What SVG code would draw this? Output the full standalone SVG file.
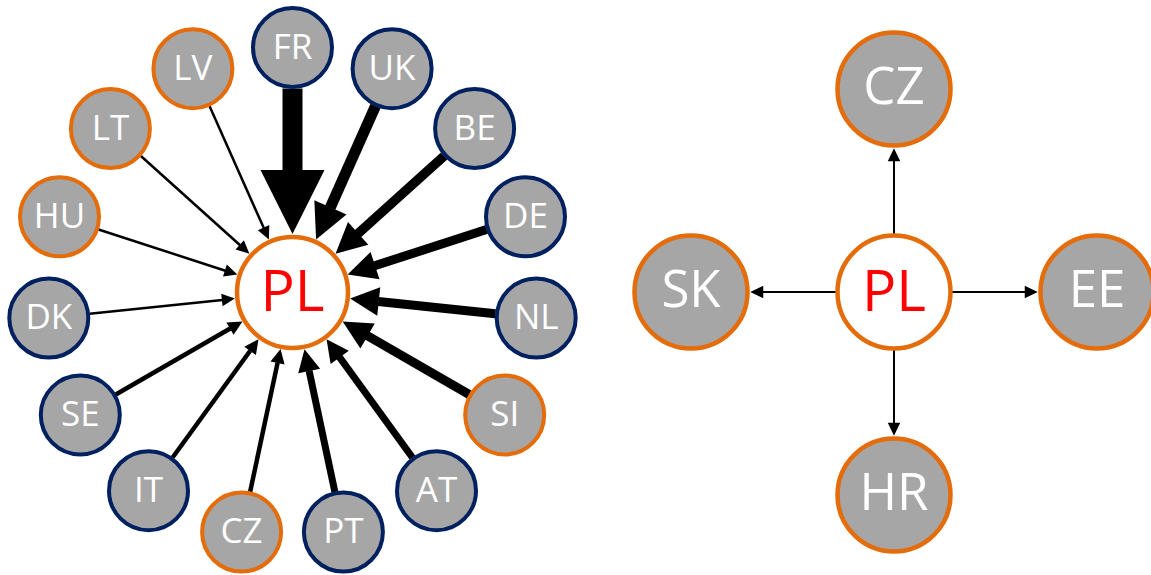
<svg xmlns="http://www.w3.org/2000/svg" width="1151" height="575" viewBox="0 0 1151 575">
<defs>
<style>
.n circle{fill:#A6A6A6;stroke-width:4}
.b circle{stroke:#002060}
.o circle{stroke:#E46C0A}
.n text{fill:#FFFFFF;font-family:"Open Sans","Noto Sans",sans-serif;text-anchor:middle}
.s text{font-size:35px}
.l text{font-size:51px}
.c circle{fill:#FFFFFF;stroke:#E46C0A;stroke-width:4.5}
.c text{fill:#FF0000;font-family:"Open Sans","Noto Sans",sans-serif;font-size:57px;text-anchor:middle}
.big circle{stroke-width:4.5}
#edges line{stroke:#000000;fill:none}
.t{marker-end:url(#headW)}
.h{marker-end:url(#headS);stroke-width:2.5}
.r{marker-end:url(#headS);stroke-width:2}
</style>
<marker id="headW" markerUnits="strokeWidth" markerWidth="3.3" markerHeight="3.2" refX="0.05" refY="1.6" orient="auto" overflow="visible">
<path d="M0,0 L3.2,1.6 L0,3.2 Z" fill="#000000"/>
</marker>
<marker id="headS" markerUnits="userSpaceOnUse" markerWidth="14" markerHeight="13" refX="0.5" refY="6.25" orient="auto" overflow="visible">
<path d="M0,0 L13,6.25 L0,12.5 Z" fill="#000000"/>
</marker>
</defs>
<rect width="1151" height="575" fill="#FFFFFF"/>
<g id="edges">
<line class="t" x1="292.5" y1="88.5" x2="292.5" y2="171" stroke-width="20"/>
<line class="t" x1="375.5" y1="106.1" x2="330.2" y2="207.8" stroke-width="11"/>
<line class="t" x1="444.1" y1="156" x2="357.8" y2="233.7" stroke-width="9.5"/>
<line class="t" x1="486.5" y1="229.5" x2="374.6" y2="265.8" stroke-width="9"/>
<line class="t" x1="495.4" y1="313.8" x2="378.3" y2="301.5" stroke-width="9"/>
<line class="t" x1="469.2" y1="394.5" x2="367.2" y2="335.7" stroke-width="9"/>
<line class="t" x1="412.4" y1="457.5" x2="339.5" y2="357.1" stroke-width="7"/>
<line class="t" x1="334.9" y1="492" x2="309.1" y2="370.7" stroke-width="7"/>
<line class="t" x1="250.1" y1="492" x2="277.6" y2="362.8" stroke-width="4.5"/>
<line class="t" x1="172.6" y1="457.5" x2="250.2" y2="350.7" stroke-width="4.5"/>
<line class="t" x1="115.8" y1="394.5" x2="230.2" y2="328.5" stroke-width="4.5"/>
<line class="h" x1="89.6" y1="313.8" x2="222.4" y2="299.9"/>
<line class="h" x1="98.5" y1="229.5" x2="225.4" y2="270.7"/>
<line class="h" x1="140.9" y1="156" x2="240.1" y2="245.3"/>
<line class="h" x1="209.5" y1="106.1" x2="263.8" y2="228.1"/>
<line class="r" x1="894" y1="234" x2="894" y2="160.75"/>
<line class="r" x1="894" y1="350" x2="894" y2="423.25"/>
<line class="r" x1="836" y1="292" x2="762.75" y2="292"/>
<line class="r" x1="952" y1="292" x2="1025.25" y2="292"/>
</g>
<g id="node-PL-left" class="c"><circle cx="292.5" cy="292.5" r="55.5"/><text x="292.5" y="310.5">PL</text></g>
<g id="node-FR" class="n s b"><circle cx="292.5" cy="47.5" r="39.5"/><text x="292.5" y="58.5">FR</text></g>
<g id="node-UK" class="n s b"><circle cx="392.1" cy="68.7" r="39.5"/><text x="392.1" y="79.7">UK</text></g>
<g id="node-BE" class="n s b"><circle cx="474.6" cy="128.6" r="39.5"/><text x="474.6" y="139.6">BE</text></g>
<g id="node-DE" class="n s b"><circle cx="525.5" cy="216.8" r="39.5"/><text x="525.5" y="227.8">DE</text></g>
<g id="node-NL" class="n s b"><circle cx="536.2" cy="318.1" r="39.5"/><text x="536.2" y="329.1">NL</text></g>
<g id="node-SI" class="n s o"><circle cx="504.7" cy="415" r="39.5"/><text x="504.7" y="426">SI</text></g>
<g id="node-AT" class="n s b"><circle cx="436.5" cy="490.7" r="39.5"/><text x="436.5" y="501.7">AT</text></g>
<g id="node-PT" class="n s b"><circle cx="343.4" cy="532.1" r="39.5"/><text x="343.4" y="543.1">PT</text></g>
<g id="node-CZ-left" class="n s o"><circle cx="241.6" cy="532.1" r="39.5"/><text x="241.6" y="543.1">CZ</text></g>
<g id="node-IT" class="n s b"><circle cx="148.5" cy="490.7" r="39.5"/><text x="148.5" y="501.7">IT</text></g>
<g id="node-SE" class="n s b"><circle cx="80.3" cy="415" r="39.5"/><text x="80.3" y="426">SE</text></g>
<g id="node-DK" class="n s b"><circle cx="48.8" cy="318.1" r="39.5"/><text x="48.8" y="329.1">DK</text></g>
<g id="node-HU" class="n s o"><circle cx="59.5" cy="216.8" r="39.5"/><text x="59.5" y="227.8">HU</text></g>
<g id="node-LT" class="n s o"><circle cx="110.4" cy="128.6" r="39.5"/><text x="110.4" y="139.6">LT</text></g>
<g id="node-LV" class="n s o"><circle cx="192.9" cy="68.7" r="39.5"/><text x="192.9" y="79.7">LV</text></g>
<g id="node-PL-right" class="c"><circle cx="894" cy="292" r="56.5"/><text x="894" y="310.5">PL</text></g>
<g id="node-CZ-right" class="n l o big"><circle cx="894" cy="89" r="56.5"/><text x="894" y="104">CZ</text></g>
<g id="node-HR" class="n l o big"><circle cx="894" cy="495" r="56.5"/><text x="894" y="510">HR</text></g>
<g id="node-SK" class="n l o big"><circle cx="691" cy="292" r="56.5"/><text x="691" y="307">SK</text></g>
<g id="node-EE" class="n l o big"><circle cx="1097" cy="292" r="56.5"/><text x="1097" y="307">EE</text></g>
</svg>
